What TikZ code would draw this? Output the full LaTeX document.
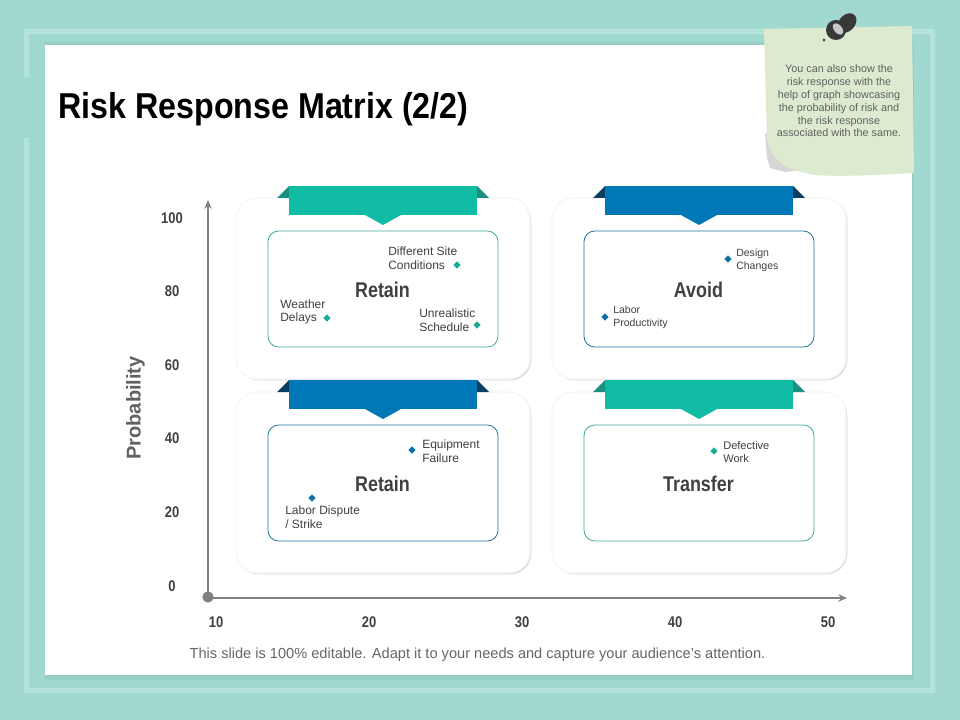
\documentclass[tikz,border=0pt]{standalone}
\usepackage{fontspec}
\setmainfont{Liberation Sans}
\newfontfamily\condfont[FakeStretch=0.84]{Liberation Sans}
\newfontfamily\headfont[FakeStretch=0.895]{Liberation Sans}
\usetikzlibrary{arrows.meta,shadows}
\definecolor{pagebg}{HTML}{A1D9D1}
\definecolor{bandlight}{HTML}{B4E3DC}
\definecolor{paneledge}{HTML}{96CEC6}
\definecolor{tealmain}{HTML}{10BDA4}
\definecolor{tealfold}{HTML}{1B8F80}
\definecolor{tealline}{HTML}{3FA89A}
\definecolor{tealdot}{HTML}{1AAB97}
\definecolor{bluemain}{HTML}{0078B8}
\definecolor{bluefold}{HTML}{0B3F62}
\definecolor{blueline}{HTML}{1F7398}
\definecolor{bluedot}{HTML}{0F6FA8}
\definecolor{notefill}{HTML}{DCEBCF}
\definecolor{inktext}{HTML}{404040}
\tikzset{
  axisline/.style={color=black!50,line width=1.5pt},
  axistip/.style={-{Stealth[length=6.5pt,width=5.5pt]}},
  ticklabel/.style={text=inktext,font=\fontsize{11.6}{13}\condfont\bfseries},
  cardpanel/.style={draw=black!3,line width=1pt,fill=white,rounded corners=16pt,minimum width=220.5pt,minimum height=135.75pt,
    drop shadow={shadow xshift=1pt,shadow yshift=-1pt,fill=black!20,opacity=.8}},
  cardinner/.style={draw=#1,line width=.6pt,fill=white,rounded corners=8pt,minimum width=172.5pt,minimum height=87pt},
  cardtitle/.style={text=inktext,font=\fontsize{16}{17}\condfont\bfseries},
  risklabel/.style={text=inktext,align=left,anchor=west,inner sep=0pt,font=\fontsize{9}{10.2}\selectfont},
  smalllabel/.style={risklabel,font=\fontsize{7.9}{9.6}\selectfont}
}
\newcommand{\riskmark}[3]{\fill[#1] (#2-3.6,#3) -- (#2,#3-3.6) -- (#2+3.6,#3) -- (#2,#3+3.6) -- cycle;}
\begin{document}
\begin{tikzpicture}[x=0.75pt,y=-0.75pt]
  \useasboundingbox (0,0) rectangle (960,720);
  \fill[pagebg] (0,0) rectangle (960,720);

  % frame round the slide
  \fill[bandlight] (24,77) -- (24,29) -- (935,29) -- (935,693) -- (24,693) -- (24,138) -- (29,138) -- (29,688) -- (930,688)
    -- (930,34) -- (29,34) -- (29,77) -- cycle;
  \fill[paneledge] (45,42) rectangle (914,680);
  \fill[white] (45,45) rectangle (912,675);

  \node (title) [anchor=west,inner sep=0pt,font=\fontsize{27}{30}\headfont\bfseries] at (58,109.5) {Risk Response Matrix (2/2)};

  % axes
  \node (origin) [circle,fill=black!50,inner sep=0pt,minimum size=8.5pt] at (208,597) {};
  \coordinate (ytop) at (208,200);
  \coordinate (xend) at (847,598);
  \path[axisline] (origin.center) edge[axistip] (ytop);
  \path[axisline] (origin.center) ++(0,1) edge[axistip] (xend);

  \foreach \ypos/\yval in {218/100,291/80,365/60,438/40,512/20,586/0}
    \node (y\yval) [ticklabel] at (172,\ypos) {\yval};
  \foreach \xpos/\xval in {216/10,369/20,522/30,675/40,828/50}
    \node (x\xval) [ticklabel] at (\xpos,622) {\xval};
  \node (ylabel) [rotate=90,text=black!62,font=\fontsize{15}{17}\selectfont\bfseries] at (135.5,408) {Probability};

  % the four cards
  \foreach \cx/\cy/\main/\fold/\edge/\name/\word in {
      383/288.5/tealmain/tealfold/tealline/tl/Retain,
      699/288.5/bluemain/bluefold/blueline/tr/Avoid,
      383/482.5/bluemain/bluefold/blueline/bl/Retain,
      699/482.5/tealmain/tealfold/tealline/br/Transfer}{
    \node (\name panel) [cardpanel] at (\cx,\cy) {};
    \fill[\fold] (\cx-106,\cy-90.5) -- (\cx-94,\cy-102.5) -- (\cx-94,\cy-90.5) -- cycle;
    \fill[\fold] (\cx+106,\cy-90.5) -- (\cx+94,\cy-102.5) -- (\cx+94,\cy-90.5) -- cycle;
    \fill[\main] (\cx-94,\cy-102.5) rectangle (\cx+94,\cy-73.5);
    \fill[\main] (\cx-18,\cy-73.5) -- (\cx,\cy-63.5) -- (\cx+18,\cy-73.5) -- cycle;
    \node (\name inner) [cardinner=\edge] at (\cx,\cy+0.5) {};
    \node (\name title) [cardtitle] at (\cx-0.5,\cy+1.5) {\word};
  }

  % points and their labels
  \riskmark{tealdot}{457}{265}
  \riskmark{tealdot}{327}{318}
  \riskmark{tealdot}{477}{325}
  \riskmark{bluedot}{728}{259}
  \riskmark{bluedot}{605}{317}
  \riskmark{bluedot}{412}{450}
  \riskmark{bluedot}{312}{498}
  \riskmark{tealdot}{714}{451}
  \node (site) [risklabel] at (388,258.5) {Different Site\\Conditions};
  \node (weather) [risklabel] at (280,312) {Weather\\Delays};
  \node (schedule) [risklabel] at (419,320) {Unrealistic\\Schedule};
  \node (design) [smalllabel] at (736,260) {Design\\Changes};
  \node (productivity) [smalllabel] at (613,317) {Labor\\Productivity};
  \node (equipment) [risklabel] at (422,451) {Equipment\\Failure};
  \node (dispute) [risklabel] at (285,517) {Labor Dispute\\/ Strike};
  \node (defective) [risklabel,font=\fontsize{8.3}{10}\selectfont] at (723,452) {Defective\\Work};

  \node (footer) [text=black!60,font=\fontsize{10.95}{12}\selectfont] at (477.5,654.5) {This slide is 100\% editable. Adapt it to your needs and capture your audience's attention.};

  % sticky note
  \fill[black!16] (765,133) -- (767,157) -- (770,168) -- (785,172) -- (800,170) -- (775,140) -- cycle;
  \fill[notefill] (764,29) -- (912,26) -- (914,173) .. controls (880,175) and (835,177) .. (815,175)
    .. controls (790,170) and (773,165) .. (767,140) -- cycle;
  \node (notetext) [text=black!62,align=center,inner sep=0pt,font=\fontsize{8.1}{9.6}\selectfont] at (839,101)
    {You can also show the\\risk response with the\\help of graph showcasing\\the probability of risk and\\the risk response\\associated with the same.};

  % pin
  \fill[black!78,rotate around={48:(847,23)}] (847,23) ellipse (11 and 8);
  \fill[black!78] (836,30) circle (10);
  \fill[black!22,rotate around={-50:(838,29)}] (838,29) ellipse (6.5 and 4);
  \fill[black!70] (824,40) circle (1.6);
\end{tikzpicture}
\end{document}
